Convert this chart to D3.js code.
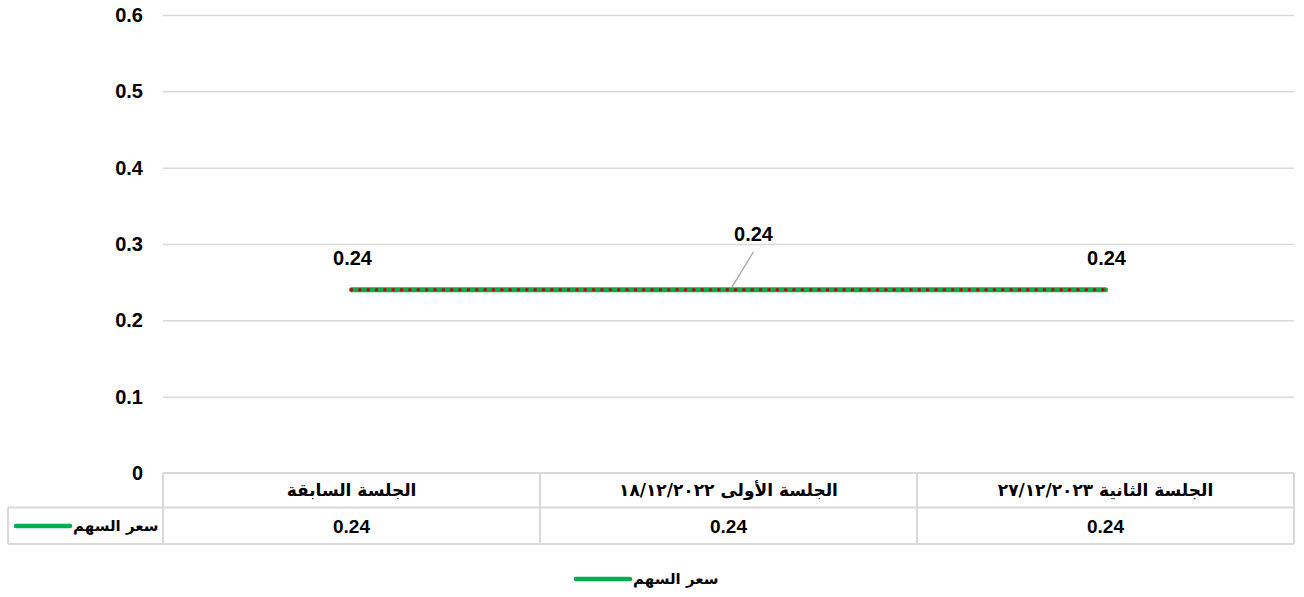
<!DOCTYPE html>
<html>
<head>
<meta charset="utf-8">
<script src="https://cdn.jsdelivr.net/npm/d3@7.9.0/dist/d3.min.js"></script>
<style>
  body { margin: 0; background: #fff; }
  svg text { font-family: "Liberation Sans", "DejaVu Sans", sans-serif; font-weight: bold; fill: #000; }
</style>
</head>
<body>
<div id="chart"></div>
<script>
const categories = ['الجلسة السابقة', 'الجلسة الأولى ١٨/١٢/٢٠٢٢', 'الجلسة الثانية ٢٧/١٢/٢٠٢٣'];
const prices = [0.24, 0.24, 0.24];
const seriesName = 'سعر السهم';
const yTicks = [0, 0.1, 0.2, 0.3, 0.4, 0.5, 0.6];

const width = 1304, height = 597;
const plot = { left: 163, right: 1294, top: 15, bottom: 473 };
const rowBottom = 507.5, tableBottom = 544, tableLeft = 8;
const green = '#00b050', red = '#d00000', grid = '#d9d9d9';

const svg = d3.select('#chart').append('svg')
  .attr('width', width).attr('height', height);

const xScale = d3.scaleBand().domain(categories).range([plot.left, plot.right]);
const yScale = d3.scaleLinear().domain([0, 0.6]).range([plot.bottom, plot.top]);
const cx = (d) => xScale(d) + xScale.bandwidth() / 2;

// gridlines
const gridG = svg.append('g')
  .attr('transform', `translate(${plot.left},0)`)
  .call(d3.axisLeft(yScale).tickValues(yTicks.filter(t => t > 0)).tickFormat('').tickSize(-(plot.right - plot.left)));
gridG.select('.domain').remove();
gridG.selectAll('line').attr('stroke', grid).attr('stroke-width', 1.5);

// y labels
const yAxis = svg.append('g')
  .attr('transform', `translate(143,0)`)
  .call(d3.axisLeft(yScale).tickValues(yTicks).tickSize(0).tickPadding(0).tickFormat(d => String(d)));
yAxis.select('.domain').remove();
yAxis.selectAll('text').attr('font-size', 20).style('font-family', '"Liberation Sans", sans-serif').style('font-weight', 'bold');

// line: green stroke with red round dots on top
const line = d3.line().x((d, i) => cx(categories[i])).y(d => yScale(d));
svg.append('path').datum(prices)
  .attr('d', line).attr('fill', 'none')
  .attr('stroke', green).attr('stroke-width', 5).attr('stroke-linecap', 'round');
svg.append('path').datum(prices)
  .attr('d', line).attr('fill', 'none')
  .attr('stroke', red).attr('stroke-width', 3.6).attr('stroke-linecap', 'round')
  .attr('stroke-dasharray', '0 8.35');

// data labels (middle one pushed up with a leader line)
prices.forEach((v, i) => {
  const x = cx(categories[i]), y = yScale(v);
  let lx = x + 1, ly = y - 25;
  if (i === 1) {
    lx = x + 25; ly = y - 49;
    svg.append('line')
      .attr('x1', x + 3).attr('y1', y - 2).attr('x2', x + 25).attr('y2', y - 38)
      .attr('stroke', '#a6a6a6').attr('stroke-width', 1.3);
  }
  svg.append('text').attr('x', lx).attr('y', ly)
    .attr('text-anchor', 'middle').attr('font-size', 20).text(v);
});

// data table
const t = svg.append('g');
const hline = (x1, x2, y) => t.append('line').attr('x1', x1).attr('x2', x2).attr('y1', y).attr('y2', y)
  .attr('stroke', grid).attr('stroke-width', 2);
const vline = (x, y1, y2) => t.append('line').attr('x1', x).attr('x2', x).attr('y1', y1).attr('y2', y2)
  .attr('stroke', grid).attr('stroke-width', 2);

hline(plot.left, plot.right, plot.bottom);
hline(tableLeft, plot.right, rowBottom);
hline(tableLeft, plot.right, tableBottom);
vline(tableLeft, rowBottom, tableBottom);
categories.forEach(c => vline(xScale(c), plot.bottom, tableBottom));
vline(plot.right, plot.bottom, tableBottom);

t.selectAll('.cat').data(categories).join('text')
  .attr('x', d => cx(d)).attr('y', (plot.bottom + rowBottom) / 2 + 6)
  .attr('text-anchor', 'middle').attr('direction', 'rtl').attr('font-size', 17)
  .style('font-family', '"DejaVu Sans", sans-serif')
  .text(d => d);

t.selectAll('.val').data(prices).join('text')
  .attr('x', (d, i) => cx(categories[i])).attr('y', (rowBottom + tableBottom) / 2 + 7)
  .attr('text-anchor', 'middle').attr('font-size', 19).text(d => d);

// legend key
function legendKey(g, x, y) {
  g.append('line').attr('x1', x).attr('x2', x + 54).attr('y1', y).attr('y2', y)
    .attr('stroke', green).attr('stroke-width', 4.5).attr('stroke-linecap', 'round');
  g.append('text').attr('x', x + 57).attr('y', y + 5)
    .attr('text-anchor', 'start').attr('font-size', 15)
    .style('font-family', '"DejaVu Sans", sans-serif').text(seriesName);
}
legendKey(t, 16, 526);

// bottom legend
legendKey(svg.append('g'), 576, 579);
</script>
</body>
</html>
